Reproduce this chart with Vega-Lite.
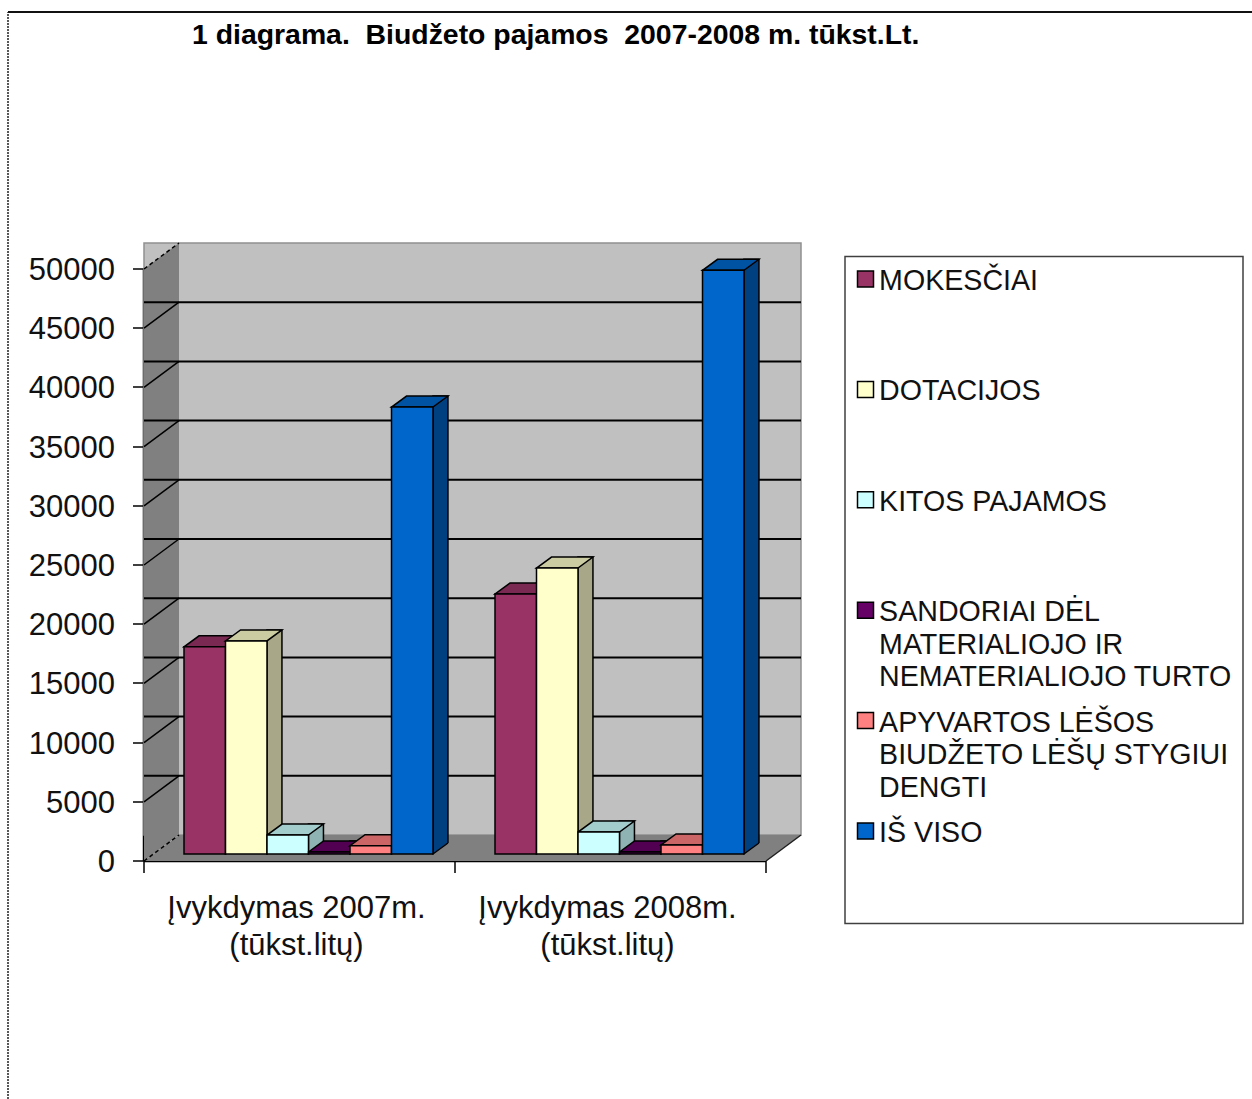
{
"$schema":"https://vega.github.io/schema/vega-lite/v6.json",
"autosize":"none",
"padding":{"left":144,"top":269,"right":486,"bottom":238},
"width":622,"height":592,
"background":"white",
"title":{"text":"1 diagrama.\u00a0 Biudžeto pajamos\u00a0 2007-2008 m. tūkst.Lt.","anchor":"start","frame":"group","dx":48,"offset":-42,"fontSize":28.4,"font":"Liberation Sans","fontWeight":"bold","color":"#000000"},
"datasets":{
"bars":[
{"group":"Įvykdymas 2007m.\n(tūkst.litų)","series":"MOKESČIAI","value":17500},
{"group":"Įvykdymas 2007m.\n(tūkst.litų)","series":"DOTACIJOS","value":18000},
{"group":"Įvykdymas 2007m.\n(tūkst.litų)","series":"KITOS PAJAMOS","value":1600},
{"group":"Įvykdymas 2007m.\n(tūkst.litų)","series":"SANDORIAI DĖL\nMATERIALIOJO IR\nNEMATERIALIOJO TURTO","value":170},
{"group":"Įvykdymas 2007m.\n(tūkst.litų)","series":"APYVARTOS LĖŠOS\nBIUDŽETO LĖŠŲ STYGIUI\nDENGTI","value":700},
{"group":"Įvykdymas 2007m.\n(tūkst.litų)","series":"IŠ VISO","value":37750},
{"group":"Įvykdymas 2008m.\n(tūkst.litų)","series":"MOKESČIAI","value":21960},
{"group":"Įvykdymas 2008m.\n(tūkst.litų)","series":"DOTACIJOS","value":24150},
{"group":"Įvykdymas 2008m.\n(tūkst.litų)","series":"KITOS PAJAMOS","value":1850},
{"group":"Įvykdymas 2008m.\n(tūkst.litų)","series":"SANDORIAI DĖL\nMATERIALIOJO IR\nNEMATERIALIOJO TURTO","value":170},
{"group":"Įvykdymas 2008m.\n(tūkst.litų)","series":"APYVARTOS LĖŠOS\nBIUDŽETO LĖŠŲ STYGIUI\nDENGTI","value":760},
{"group":"Įvykdymas 2008m.\n(tūkst.litų)","series":"IŠ VISO","value":49300}
],
"ticks":[{"tick":5000},{"tick":10000},{"tick":15000},{"tick":20000},{"tick":25000},{"tick":30000},{"tick":35000},{"tick":40000},{"tick":45000}],
"edges":[{"tick":0},{"tick":50000}],
"one":[{"tick":0}]
},
"resolve":{"scale":{"color":"independent","xOffset":"independent"}},
"layer":[
{"data":{"name":"one"},
 "mark":{"type":"rect","fill":"#C0C0C0","stroke":"#909090","strokeWidth":1.5,"xOffset":35,"x2Offset":35,"yOffset":-26,"y2Offset":-26},
 "encoding":{"y":{"datum":50000,"type":"quantitative","scale":{"domain":[0,50000],"nice":false}},"y2":{"datum":0}}},
{"data":{"name":"one"},
 "mark":{"type":"point","shape":"M0,0L35,-26L35,-618L0,-592Z","size":4,"filled":true,"fill":"#808080","opacity":1,"strokeWidth":0},
 "encoding":{"x":{"value":0},"y":{"field":"tick","type":"quantitative"}}},
{"data":{"name":"one"},
 "mark":{"type":"point","shape":"M0,0L622,0L657,-26L35,-26Z","size":4,"filled":true,"fill":"#808080","opacity":1,"strokeWidth":0},
 "encoding":{"x":{"value":0},"y":{"field":"tick","type":"quantitative"}}},
{"data":{"name":"ticks"},
 "mark":{"type":"rule","stroke":"#000000","strokeWidth":2,"xOffset":35,"x2Offset":35,"yOffset":-26},
 "encoding":{"y":{"field":"tick","type":"quantitative"}}},
{"data":{"name":"ticks"},
 "mark":{"type":"point","shape":"M0,0L35,-26","size":4,"filled":false,"stroke":"#000000","strokeWidth":1.5,"opacity":1},
 "encoding":{"x":{"value":0},"y":{"field":"tick","type":"quantitative"}}},
{"data":{"name":"edges"},
 "mark":{"type":"point","shape":"M0,0L35,-26","size":4,"filled":false,"stroke":"#000000","strokeWidth":1.5,"strokeDash":[4,3],"opacity":1},
 "encoding":{"x":{"value":0},"y":{"field":"tick","type":"quantitative"}}},
{"data":{"name":"one"},
 "mark":{"type":"point","shape":"M622,0L657,-26","size":4,"filled":false,"stroke":"#202020","strokeWidth":1.5,"opacity":1},
 "encoding":{"x":{"value":0},"y":{"field":"tick","type":"quantitative"}}},
{"data":{"name":"bars"},
 "mark":{"type":"bar","width":15,"stroke":"#000000","strokeWidth":1.5,"yOffset":-18,"y2Offset":-7},
 "encoding":{
  "x":{"field":"group","type":"nominal","sort":null,"scale":{"paddingInner":0,"paddingOuter":0},
   "axis":{"title":null,"labelAngle":0,"translate":0,"labelExpr":"split(datum.label,'\\n')","tickBand":"extent","labelFont":"Liberation Sans","labelFontSize":31,"labelColor":"#111111","labelLimit":400,"labelPadding":21,"labelOffset":-3,"labelLineHeight":37,"tickSize":12,"tickColor":"#000000","tickWidth":1.5,"domainColor":"#000000","domainWidth":2.5,"labelBaseline":"top"}},
  "xOffset":{"field":"series","type":"nominal","sort":null,"scale":{"range":[68.2,317.2]}},
  "y":{"field":"value","type":"quantitative","scale":{"domain":[0,50000],"nice":false},
   "axis":{"title":null,"format":"d","translate":0,"labelOffset":2,"values":[0,5000,10000,15000,20000,25000,30000,35000,40000,45000,50000],"grid":false,"labelFont":"Liberation Sans","labelFontSize":31,"labelColor":"#111111","labelPadding":18,"tickSize":11,"tickColor":"#000000","tickWidth":1.5,"domainColor":"#000000","domainWidth":2.5}},
  "y2":{"datum":0},
  "color":{"field":"series","type":"nominal","sort":null,"legend":null,"scale":{"range":["#7A2952","#A8A888","#8FB3B3","#470047","#B35A5A","#004080"]}}
 }},
{"data":{"name":"bars"},
 "mark":{"type":"point","shape":"M20.7,0L35.7,-11L37.5,-11L37.5,2L20.7,2Z","size":4,"filled":true,"fill":"#808080","opacity":1,"strokeWidth":0,"yOffset":-7},
 "encoding":{"x":{"field":"group","type":"nominal","sort":null},"xOffset":{"field":"series","type":"nominal","sort":null,"scale":{"range":[40,289]}},"y":{"datum":0,"type":"quantitative"}}},
{"data":{"name":"bars"},
 "mark":{"type":"point","shape":"M20.7,0L35.7,-11","size":4,"filled":false,"stroke":"#000000","strokeWidth":1.5,"opacity":1,"yOffset":-7},
 "encoding":{"x":{"field":"group","type":"nominal","sort":null},"xOffset":{"field":"series","type":"nominal","sort":null,"scale":{"range":[40,289]}},"y":{"datum":0,"type":"quantitative"}}},
{"data":{"name":"bars"},
 "mark":{"type":"point","shape":"M-20.7,0L20.7,0L35.7,-11L-5.7,-11Z","size":4,"filled":true,"stroke":"#000000","strokeWidth":1.5,"opacity":1,"yOffset":-7},
 "encoding":{"x":{"field":"group","type":"nominal","sort":null},"xOffset":{"field":"series","type":"nominal","sort":null,"scale":{"range":[40,289]}},"y":{"field":"value","type":"quantitative"},
  "color":{"field":"series","type":"nominal","sort":null,"legend":null,"scale":{"range":["#7A2952","#CCCCA3","#A3CCCC","#520052","#CC6666","#0052A3"]}}}},
{"data":{"name":"bars"},
 "mark":{"type":"bar","stroke":"#000000","strokeWidth":1.5,"yOffset":-7,"y2Offset":-7},
 "encoding":{"x":{"field":"group","type":"nominal","sort":null},"xOffset":{"field":"series","type":"nominal","sort":null,"scale":{"range":[40,289]}},"y":{"field":"value","type":"quantitative"},"y2":{"datum":0},
  "color":{"field":"series","type":"nominal","sort":null,"scale":{"range":["#993366","#FFFFCC","#CCFFFF","#660066","#FF8080","#0066CC"]},
   "legend":{"title":null,"orient":"none","legendX":701,"legendY":-12.5,"fillColor":"#FFFFFF","strokeColor":"#404040","padding":10.5,"clipHeight":94,"rowPadding":16.4,"symbolType":"square","symbolSize":256,"symbolStrokeColor":"#000000","symbolStrokeWidth":1.5,"labelFont":"Liberation Sans","labelFontSize":28.6,"labelColor":"#111111","labelLimit":500,"labelOffset":-5,"labelExpr":"split(datum.label,'\\n')",
    "encode":{"labels":{"update":{"lineHeight":{"value":32.5},"baseline":{"value":"top"},"y":{"value":0}}},"symbols":{"update":{"y":{"value":12},"x":{"value":10}}},"legend":{"update":{"strokeWidth":{"value":1.5}}}}}}}},
{"data":{"name":"one"},
 "mark":{"type":"point","shape":"M-136,238L-136,-849","size":4,"filled":false,"stroke":"#222222","strokeWidth":1.5,"strokeDash":[2,1],"opacity":1},
 "encoding":{"x":{"value":0},"y":{"field":"tick","type":"quantitative"}}},
{"data":{"name":"one"},
 "mark":{"type":"point","shape":"M-136,-849L1108,-849","size":4,"filled":false,"stroke":"#111111","strokeWidth":2,"opacity":1},
 "encoding":{"x":{"value":0},"y":{"field":"tick","type":"quantitative"}}}
]
}
